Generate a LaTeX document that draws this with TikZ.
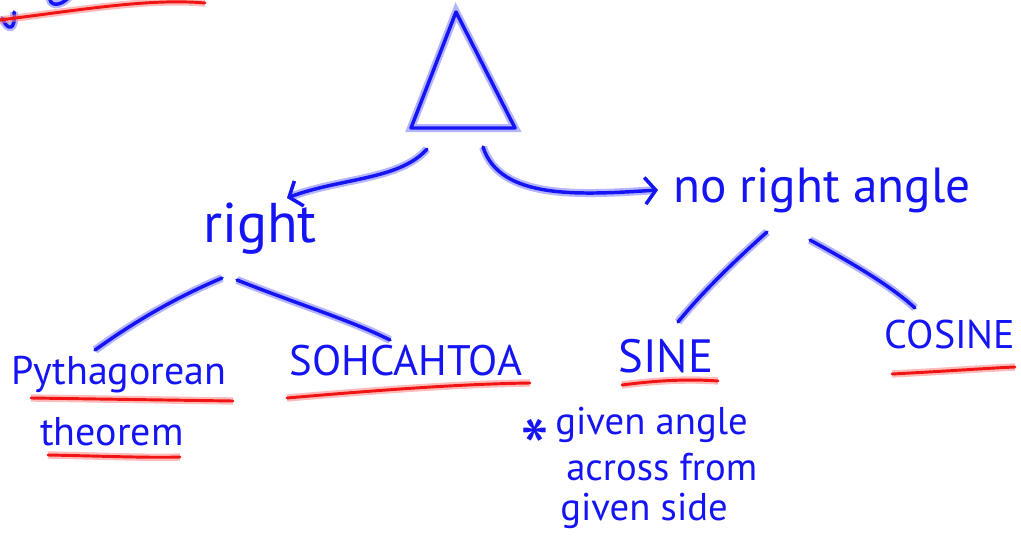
\documentclass[tikz,border=0pt]{standalone}
\usepackage{fontspec}
\setmainfont{PT Sans}
\usetikzlibrary{arrows.meta}
\definecolor{ink}{RGB}{20,20,245}
\definecolor{halo}{RGB}{120,120,255}
\definecolor{redink}{RGB}{240,20,20}
\definecolor{redhalo}{RGB}{255,130,130}
\tikzset{
  pen/.style={draw=ink, line width=2.6pt, line cap=round, line join=round,
    preaction={draw=halo, line width=6pt, opacity=0.55}},
  redpen/.style={draw=redink, line width=2.2pt, line cap=round,
    preaction={draw=redhalo, line width=5.5pt, opacity=0.55}},
  hand/.style={text=ink, inner sep=0pt},
  notefont/.style={hand, anchor=west, font=\fontsize{29}{30}\selectfont},
  tip/.style={-{Straight Barb[length=8pt,width=20pt,line width=2.6pt]}}
}
\begin{document}
\begin{tikzpicture}[x=0.75pt,y=-0.75pt]
\useasboundingbox (0,0) rectangle (1021,547);
% top-left cut fragment
\begin{scope}
\clip (0,0) rectangle (1021,547);
\draw[pen] (2,18) .. controls (8,32) and (16,30) .. (14,12);
\draw[pen] (50,-4) .. controls (48,6) and (60,8) .. (70,-4);
\draw[redpen] (0,20) .. controls (80,10) and (150,-2) .. (205,3);
\end{scope}
% triangle
\draw[pen] (456,12) -- (411,128) -- (515,128) -- cycle;
\coordinate (tl) at (427,149);
\coordinate (tr) at (483,147);
% nodes
\node[hand, font=\fontsize{42}{44}\selectfont] (right) at (260,229) {right};
\node[hand, font=\fontsize{37}{40}\selectfont] (noright) at (822,190) {no right angle};
\node[hand, font=\fontsize{30}{32}\selectfont] (pyth) at (119,375) {Pythagorean};
\node[hand, font=\fontsize{30}{32}\selectfont] (theorem) at (112,432) {theorem};
\node[hand, font=\fontsize{32}{34}\selectfont] (soh) at (406,361) {SOHCAHTOA};
\node[hand, font=\fontsize{35}{37}\selectfont] (sine) at (666,356) {SINE};
\node[hand, font=\fontsize{30}{32}\selectfont] (cosine) at (950,334) {COSINE};
\node[hand, font=\fontsize{62}{62}\selectfont] (star) at (535,449) {*};
\node[notefont] (note1) at (555,425) {given angle};
\node[notefont] (note2) at (566,467) {across from};
\node[notefont] (note3) at (560,511) {given side};
% arrows from triangle
\draw[pen, tip] (tl) .. controls (400,180) and (340,178) .. (287,198);
\draw[pen, tip] (tr) .. controls (500,200) and (580,195) .. (658,190);
% connectors
\coordinate (r1) at (222,278);
\coordinate (r2) at (237,280);
\coordinate (p1) at (95,350);
\coordinate (s1) at (390,340);
\draw[pen] (r1) .. controls (170,300) and (130,325) .. (p1);
\draw[pen] (r2) .. controls (300,305) and (350,320) .. (s1);
\coordinate (n1) at (767,232);
\coordinate (n2) at (810,240);
\coordinate (si) at (678,322);
\coordinate (co) at (915,308);
\draw[pen] (n1) .. controls (730,265) and (700,295) .. (si);
\draw[pen] (n2) .. controls (850,262) and (890,285) .. (co);
% red underlines
\draw[redpen] (31,398) -- (233,401);
\draw[redpen] (48,455) .. controls (100,456) and (150,458) .. (180,457);
\draw[redpen] (287,398) .. controls (380,390) and (460,384) .. (530,383);
\draw[redpen] (622,385) .. controls (660,380) and (690,379) .. (718,381);
\draw[redpen] (892,374) .. controls (950,371) and (990,368) .. (1015,367);
\end{tikzpicture}
\end{document}
